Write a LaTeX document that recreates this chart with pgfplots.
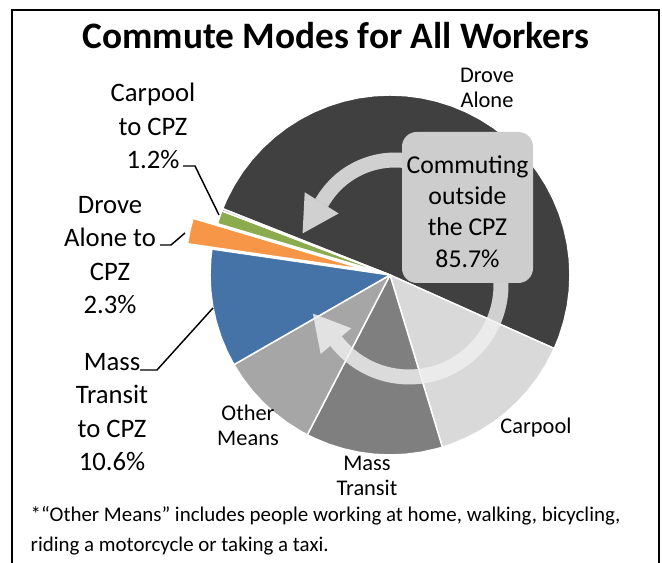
\documentclass[border=0pt]{standalone}
\usepackage{pgfplots}
\pgfplotsset{compat=1.18}
\usepackage{fontspec}
\setmainfont{Carlito}
\usetikzlibrary{arrows.meta}
\definecolor{cDA}{HTML}{404040}
\definecolor{cCP}{HTML}{D9D9D9}
\definecolor{cMT}{HTML}{7F7F7F}
\definecolor{cOM}{HTML}{A6A6A6}
\definecolor{cMTZ}{HTML}{4572A7}
\definecolor{cDAZ}{HTML}{F79646}
\definecolor{cCPZ}{HTML}{8CAA4E}
\definecolor{cOZ}{HTML}{C0B0D8}
\definecolor{arrowc}{HTML}{F0F0F0}
\definecolor{boxc}{HTML}{CDCDCD}
\begin{document}
\begin{tikzpicture}
\begin{axis}[x=0.75pt,y=0.75pt,xmin=-390,xmax=272,ymin=-288,ymax=275,
  hide axis,clip=false,
  slice/.style={data cs=polar,mark=none,draw=white,line width=1.1pt,line join=round}]
% Drove Alone 50.7%
\addplot[slice,fill=cDA] coordinates {(0,0) (158.4,180) (155,180) (150,180) (145,180) (140,180) (135,180) (130,180) (125,180) (120,180) (115,180) (110,180) (105,180) (100,180) (95,180) (90,180) (85,180) (80,180) (75,180) (70,180) (65,180) (60,180) (55,180) (50,180) (45,180) (40,180) (35,180) (30,180) (25,180) (20,180) (15,180) (10,180) (5,180) (0,180) (-5,180) (-10,180) (-15,180) (-20,180) (-24.12,180) (0,0)};
% Carpool 13.6%
\addplot[slice,fill=cCP] coordinates {(0,0) (-24.12,180) (-30,180) (-35,180) (-40,180) (-45,180) (-50,180) (-55,180) (-60,180) (-65,180) (-70,180) (-73.08,180) (0,0)};
% Mass Transit 12.3%
\addplot[slice,fill=cMT] coordinates {(0,0) (-73.08,180) (-75,180) (-80,180) (-85,180) (-90,180) (-95,180) (-100,180) (-105,180) (-110,180) (-115,180) (-117.36,180) (0,0)};
% Other Means 9.1%
\addplot[slice,fill=cOM] coordinates {(0,0) (-117.36,180) (-120,180) (-125,180) (-130,180) (-135,180) (-140,180) (-145,180) (-150.12,180) (0,0)};
% Mass Transit to CPZ 10.6%
\addplot[slice,fill=cMTZ] coordinates {(0,0) (209.88,180) (205,180) (200,180) (195,180) (190,180) (185,180) (180,180) (175,180) (171.72,180) (0,0)};
% Drove Alone to CPZ 2.3% (exploded)
\addplot[slice,fill=cDAZ,xshift=-18.3pt,yshift=4pt] coordinates {(0,0) (171.72,180) (167.58,180) (163.44,180) (0,0)};
% Carpool to CPZ 1.2%
\addplot[slice,fill=cCPZ] coordinates {(0,0) (163.44,180) (161.28,180) (159.12,180) (0,0)};
% other to CPZ 0.2%
\addplot[slice,fill=cOZ] coordinates {(0,0) (159.12,180) (158.4,180) (0,0)};

% circular arrows
\draw[line width=11.25pt,draw=arrowc,opacity=0.82,-{Triangle[length=27pt,width=30pt,line width=0pt]}]
  (axis cs:19.6,113.7) arc[start angle=80,end angle=148,radius=63pt] -- ++(axis direction cs:-21.2,-33.9);
\draw[line width=11.25pt,draw=arrowc,opacity=0.82,-{Triangle[length=27pt,width=30pt,line width=0pt]}]
  (axis cs:110.65,-1.98) arc[start angle=5,end angle=-140,radius=69pt] -- ++(axis direction cs:-25.7,30.6);
% box
\fill[boxc,rounded corners=11pt] (axis cs:12,143) rectangle (axis cs:143,-8);
\node[align=center,font=\fontsize{19.3}{23.5}\selectfont] at (axis cs:77.5,63.5) {Commuting\\outside\\the CPZ\\85.7\%};

% title
\node[font=\fontsize{28}{32}\selectfont\bfseries] at (axis cs:-54,239) {Commute Modes for All Workers};

% outer labels
\node[align=center,font=\fontsize{16.8}{19}\selectfont] at (axis cs:97,187) {Drove\\Alone};
\node[align=center,font=\fontsize{16.8}{19}\selectfont] at (axis cs:146,-153) {Carpool};
\node[align=center,font=\fontsize{16.8}{19}\selectfont] at (axis cs:-23,-201) {Mass\\Transit};
\node[align=center,font=\fontsize{16.8}{19}\selectfont] at (axis cs:-142,-150) {Other\\Means};

\node[align=center,font=\fontsize{20}{25}\selectfont] at (axis cs:-237,149) {Carpool\\to CPZ\\1.2\%};
\node[align=center,font=\fontsize{20}{25}\selectfont] at (axis cs:-280,20) {Drove\\Alone to\\CPZ\\2.3\%};
\node[align=center,font=\fontsize{20}{25}\selectfont] at (axis cs:-278,-137) {Mass\\Transit\\to CPZ\\10.6\%};

\draw[black,line width=1.1pt] (axis cs:-207,109) -- (axis cs:-195,109) -- (axis cs:-171,60);
\draw[black,line width=1.1pt] (axis cs:-230,30) -- (axis cs:-219,30) -- (axis cs:-205,42);
\draw[black,line width=1.1pt] (axis cs:-250,-95) -- (axis cs:-233,-95) -- (axis cs:-177,-33);

% footnote
\node[anchor=base west,font=\fontsize{15.7}{19}\selectfont] at (axis cs:-364,-247) {*``Other Means'' includes people working at home, walking, bicycling,};
\node[anchor=base west,font=\fontsize{15.7}{19}\selectfont] at (axis cs:-364,-277) {riding a motorcycle or taking a taxi.};

% frame
\draw[black,line width=1.5pt] (axis cs:-378,-288) -- (axis cs:-378,265) -- (axis cs:269,265) -- (axis cs:269,-288);

\coordinate (BL) at (axis cs:-390,-288);
\coordinate (TR) at (axis cs:272,275);
\end{axis}
\pgfresetboundingbox
\path[use as bounding box] (BL) rectangle (TR);
\end{tikzpicture}
\end{document}
